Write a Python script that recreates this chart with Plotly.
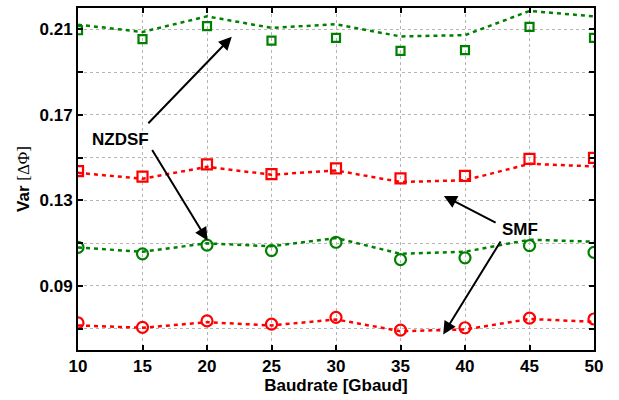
import plotly.graph_objects as go

baudrate = [10, 15, 20, 25, 30, 35, 40, 45, 50]

nzdsf_sq = [0.2096, 0.2054, 0.2115, 0.2047, 0.2060, 0.1999, 0.2003, 0.2112, 0.2060]
nzdsf_sq_line = [0.2122, 0.2088, 0.2161, 0.2107, 0.2124, 0.2067, 0.2073, 0.2186, 0.2161]

smf_sq = [0.1437, 0.1411, 0.1468, 0.1423, 0.1450, 0.1403, 0.1415, 0.1494, 0.1499]
smf_sq_line = [0.1429, 0.1401, 0.1457, 0.1420, 0.1440, 0.1386, 0.1394, 0.1471, 0.1459]

nzdsf_ci = [0.1080, 0.1050, 0.1091, 0.1065, 0.1104, 0.1023, 0.1031, 0.1088, 0.1057]
nzdsf_ci_line = [0.1079, 0.1060, 0.1099, 0.1085, 0.1124, 0.1050, 0.1060, 0.1116, 0.1107]

smf_ci = [0.0727, 0.0706, 0.0736, 0.0721, 0.0753, 0.0693, 0.0704, 0.0749, 0.0745]
smf_ci_line = [0.0715, 0.0704, 0.0730, 0.0715, 0.0743, 0.0688, 0.0696, 0.0745, 0.0732]

y_grid = [0.07, 0.09, 0.11, 0.13, 0.15, 0.17, 0.19, 0.21]
y_labels = ["", "0.09", "", "0.13", "", "0.17", "", "0.21"]
x_ticks = [10, 15, 20, 25, 30, 35, 40, 45, 50]

GREEN = "#008000"
RED = "#ff0000"
FONT = "Liberation Sans, Arial, sans-serif"

fig = go.Figure()

def add_line(y, color):
    fig.add_trace(go.Scatter(x=baudrate, y=y, mode="lines",
                             line=dict(color=color, width=2.5, dash="4px,4px"),
                             showlegend=False, hoverinfo="skip"))

def add_markers(y, color, symbol, size):
    fig.add_trace(go.Scatter(x=baudrate, y=y, mode="markers",
                             marker=dict(symbol=symbol, size=size, color=color,
                                         line=dict(color=color, width=2.2)),
                             showlegend=False))

add_line(nzdsf_sq_line, GREEN)
add_line(smf_sq_line, RED)
add_line(nzdsf_ci_line, GREEN)
add_line(smf_ci_line, RED)
add_markers(nzdsf_sq, GREEN, "square-open", 8)
add_markers(smf_sq, RED, "square-open", 10)
add_markers(nzdsf_ci, GREEN, "circle-open", 11)
add_markers(smf_ci, RED, "circle-open", 11)

arrows = [
    (21.92, 0.2065, 15.34, 0.1654),
    (20.04, 0.1112, 15.68, 0.1543),
    (38.36, 0.1321, 42.49, 0.1192),
    (38.31, 0.0673, 42.83, 0.1115),
]
for (hx, hy, tx, ty) in arrows:
    fig.add_annotation(x=hx, y=hy, ax=tx, ay=ty, xref="x", yref="y", axref="x", ayref="y",
                       text="", showarrow=True, arrowhead=2, arrowsize=1.3, arrowwidth=2,
                       arrowcolor="black")

fig.add_annotation(x=13.3, y=0.1585, xref="x", yref="y", text="<b>NZDSF</b>", showarrow=False,
                   font=dict(family=FONT, size=17, color="black"))
fig.add_annotation(x=44.3, y=0.1166, xref="x", yref="y", text="<b>SMF</b>", showarrow=False,
                   font=dict(family=FONT, size=17, color="black"))

axis_common = dict(showline=True, linecolor="black", linewidth=2, mirror="ticks",
                   ticks="inside", ticklen=5, tickwidth=1.5, tickcolor="black",
                   showgrid=True, gridcolor="#b5b5b5", gridwidth=1, griddash="dot",
                   zeroline=False,
                   tickfont=dict(family=FONT, size=17, color="black", weight="bold"))

fig.update_xaxes(range=[10, 50], tickvals=x_ticks, ticktext=[str(v) for v in x_ticks],
                 title=dict(text="<b>Baudrate [Gbaud]</b>", font=dict(family=FONT, size=17, color="black"),
                            standoff=4),
                 **axis_common)
fig.update_yaxes(range=[0.06, 0.22], tickvals=y_grid, ticktext=y_labels,
                 title=dict(text="<b>Var</b> <span style=\"font-family:'Liberation Serif', serif\">[ΔΦ]</span>",
                            font=dict(family=FONT, size=17, color="black"), standoff=6),
                 **axis_common)

fig.update_layout(width=619, height=400, margin=dict(l=78, r=25, t=6, b=50),
                  plot_bgcolor="white", paper_bgcolor="white", showlegend=False)

fig.write_html("out.html", config={"displayModeBar": False},
               post_script="document.body.style.margin='0';")
